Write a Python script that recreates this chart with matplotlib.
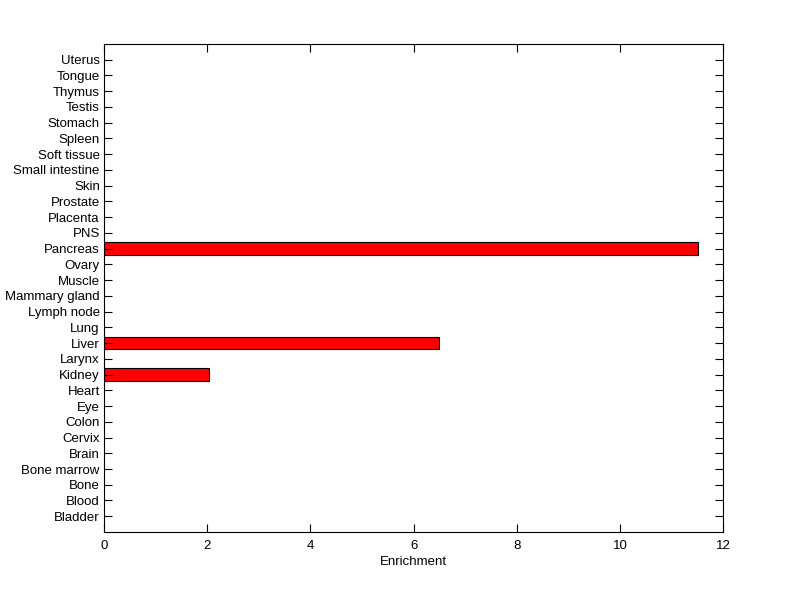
import matplotlib
matplotlib.use('Agg')
import matplotlib.pyplot as plt

# tissues, bottom to top
tissues = ['Bladder', 'Blood', 'Bone', 'Bone marrow', 'Brain', 'Cervix', 'Colon',
           'Eye', 'Heart', 'Kidney', 'Larynx', 'Liver', 'Lung', 'Lymph node',
           'Mammary gland', 'Muscle', 'Ovary', 'Pancreas', 'PNS', 'Placenta',
           'Prostate', 'Skin', 'Small intestine', 'Soft tissue', 'Spleen',
           'Stomach', 'Testis', 'Thymus', 'Tongue', 'Uterus']
enrichment = [0, 0, 0, 0, 0, 0, 0,
              0, 0, 2.04, 0, 6.49, 0, 0,
              0, 0, 0, 11.52, 0, 0,
              0, 0, 0, 0, 0,
              0, 0, 0, 0, 0]
xticks = [0, 2, 4, 6, 8, 10, 12]

plt.rcParams['font.family'] = ['Liberation Sans', 'DejaVu Sans']
plt.rcParams['font.size'] = 9.5

fig = plt.figure(figsize=(8, 5.99), dpi=100)
ax = fig.add_axes([0.13, 0.1119, 0.774, 0.8147])

pos = list(range(1, len(tissues) + 1))
# skip zero bars so no stubs are drawn
for p, v in zip(pos, enrichment):
    if v > 0:
        ax.barh(p, v, height=0.8, color='red', edgecolor='black', linewidth=0.8)

ax.set_xlim(0, 12)
ax.set_ylim(0, len(tissues) + 1)
ax.set_xticks(xticks)
ax.set_yticks(pos)
ax.set_yticklabels(tissues)
ax.set_xlabel('Enrichment', labelpad=3)

ax.tick_params(direction='in', length=5.5, width=0.8, top=True, right=True)
ax.tick_params(axis='x', pad=6)
ax.tick_params(axis='y', pad=3)
for s in ax.spines.values():
    s.set_linewidth(0.8)

fig.savefig('out.png', dpi=100)
